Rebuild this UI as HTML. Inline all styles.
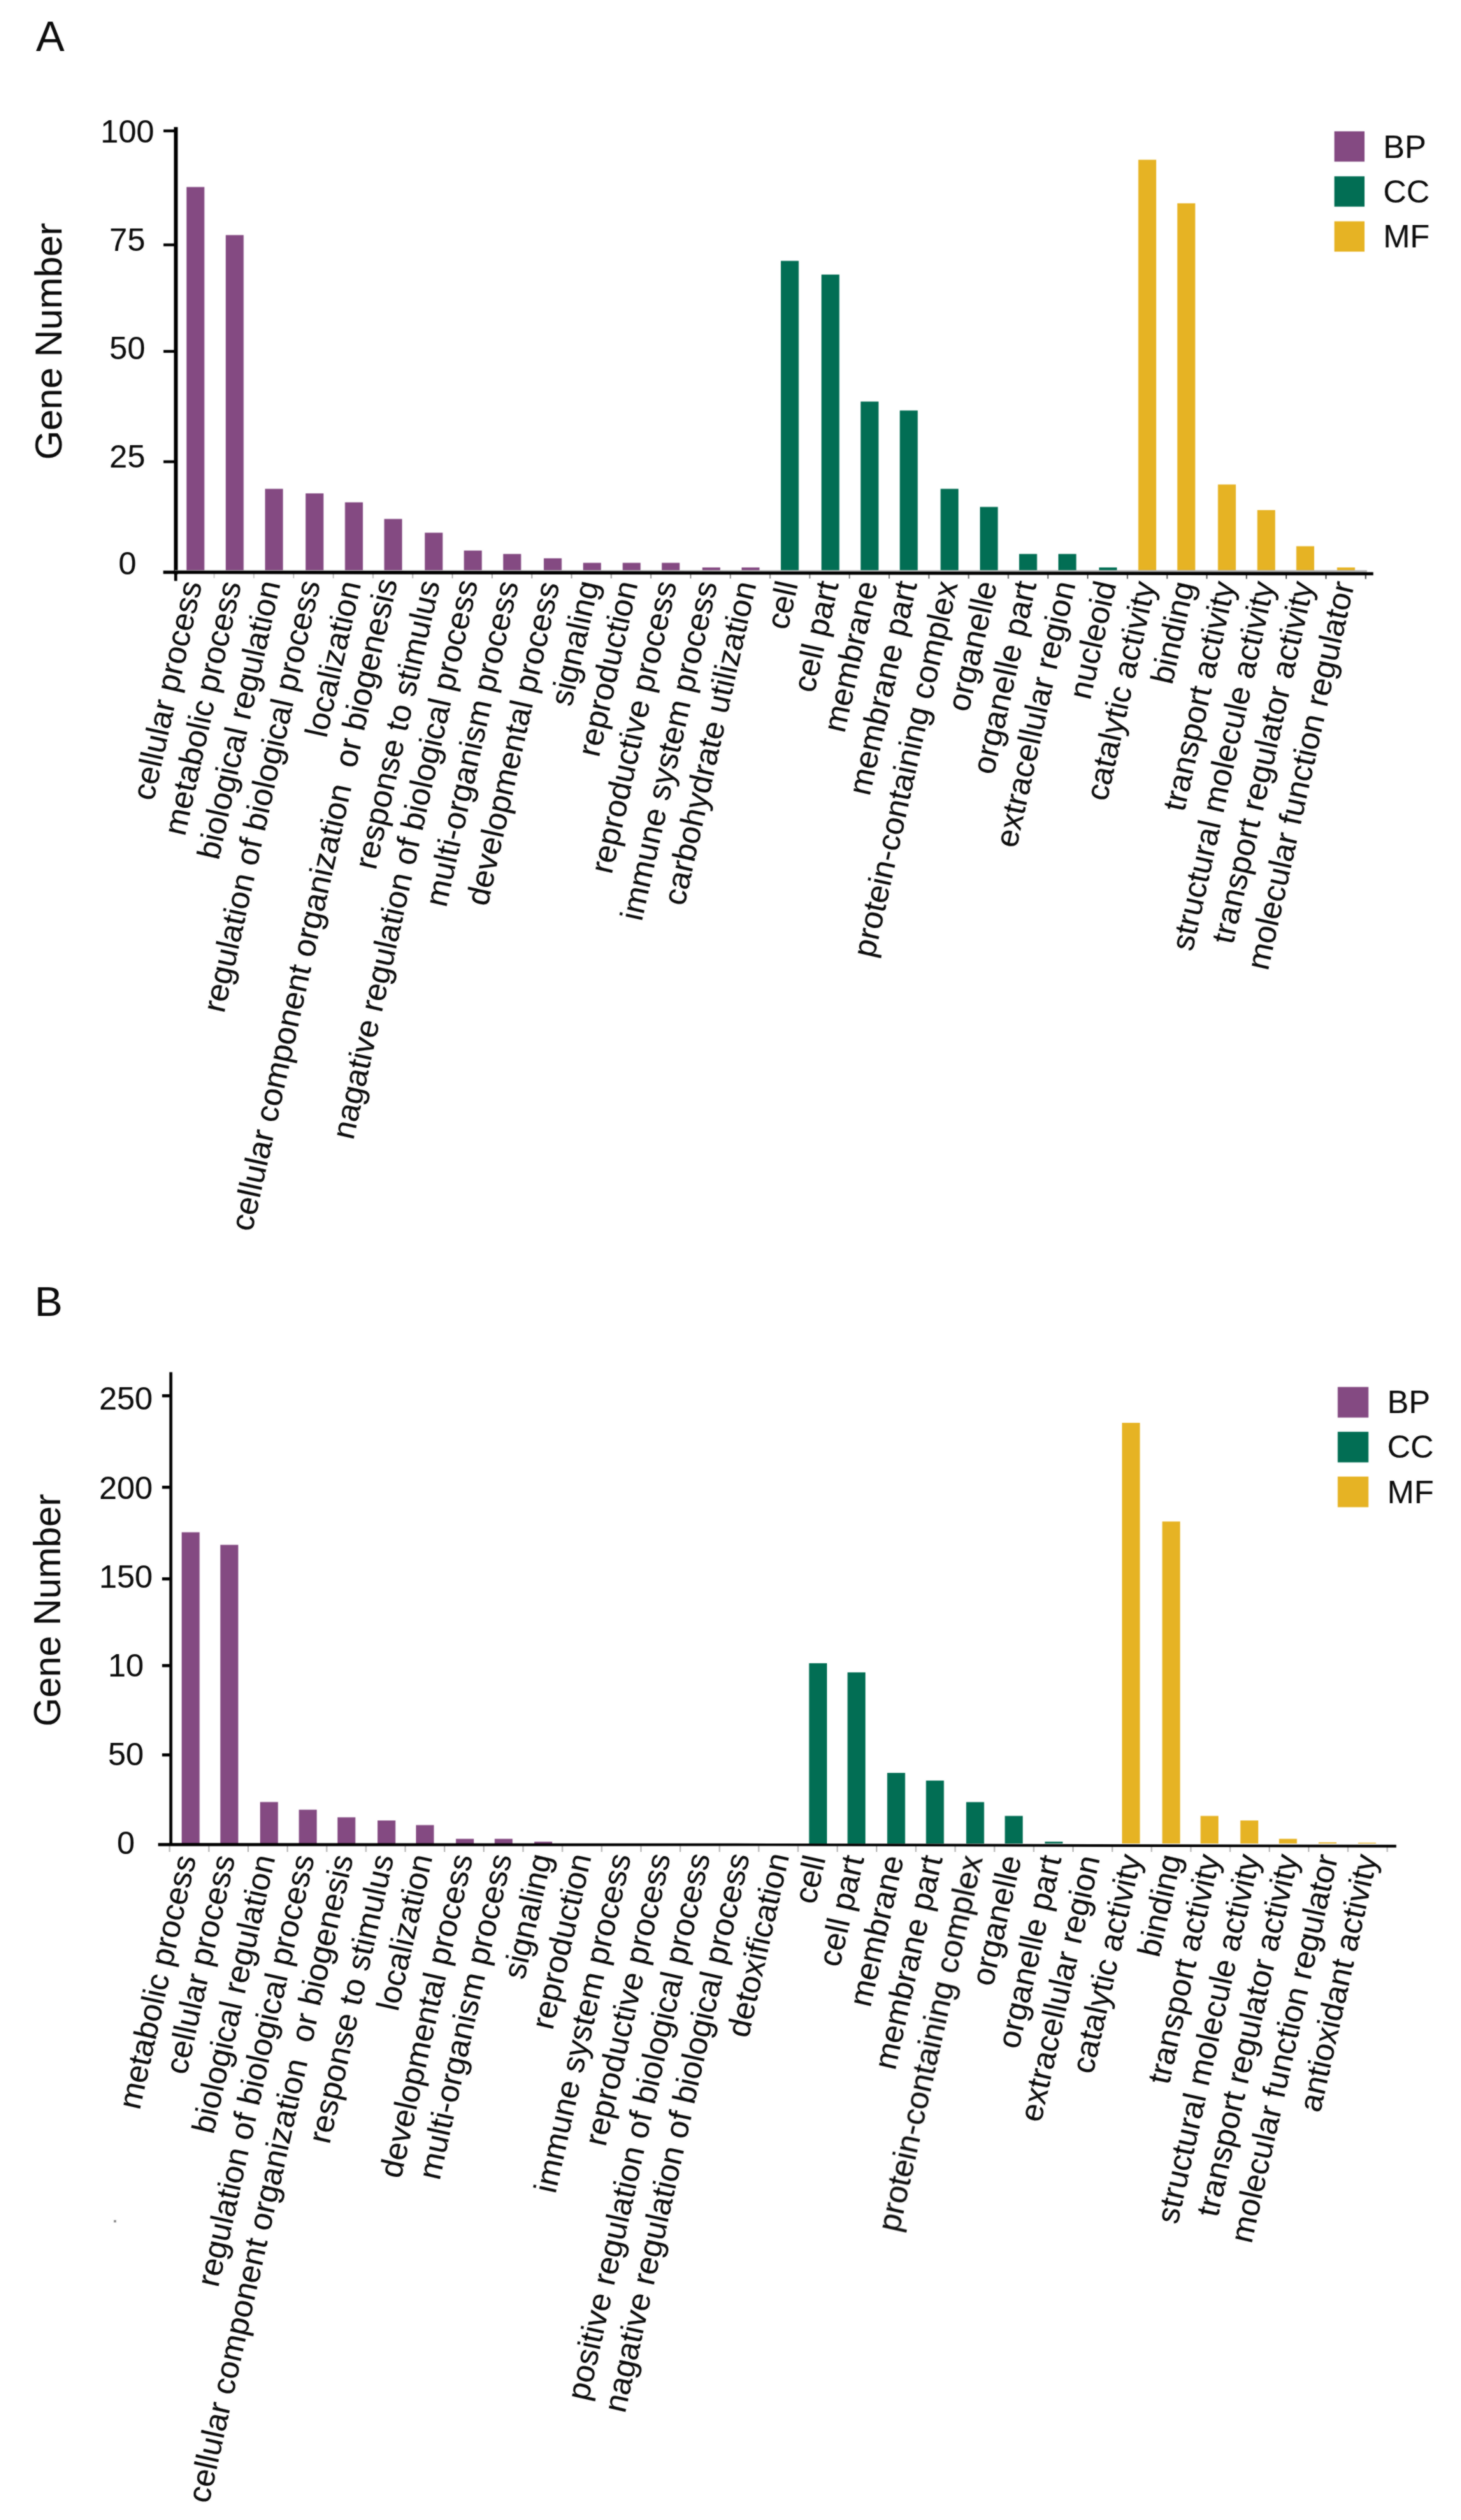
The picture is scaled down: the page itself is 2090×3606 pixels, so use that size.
<!DOCTYPE html>
<html lang="en"><head><meta charset="utf-8"><title>GO classification</title>
<style>html,body{margin:0;padding:0;background:#fff}body{width:2090px;height:3606px;overflow:hidden}svg{display:block}text{fill:#0c0c0c;stroke:#0c0c0c;stroke-width:0.12px}</style></head><body>
<svg width="2090" height="3606" viewBox="0 0 2090 3606" font-family="Liberation Sans, Arial, sans-serif">
<defs><filter id="soft" x="-2%" y="-2%" width="104%" height="104%" color-interpolation-filters="sRGB"><feGaussianBlur stdDeviation="0.8" result="b"/><feComposite in="SourceGraphic" in2="b" operator="arithmetic" k1="0" k2="0.45" k3="0.55" k4="0"/></filter></defs>
<rect width="2090" height="3606" fill="#fff"/>
<g id="panelA" filter="url(#soft)">
<text x="51.5" y="73.0" font-size="61" text-anchor="start" >A</text>
<rect x="266.8" y="267.6" width="25.6" height="548.9" fill="#844A82"/>
<rect x="322.9" y="336.4" width="25.6" height="480.1" fill="#844A82"/>
<rect x="379.2" y="699.5" width="25.6" height="117.0" fill="#844A82"/>
<rect x="437.2" y="706.0" width="25.6" height="110.5" fill="#844A82"/>
<rect x="493.5" y="718.8" width="25.6" height="97.7" fill="#844A82"/>
<rect x="549.6" y="742.6" width="25.6" height="73.9" fill="#844A82"/>
<rect x="607.7" y="762.3" width="25.6" height="54.2" fill="#844A82"/>
<rect x="663.7" y="787.8" width="25.6" height="28.7" fill="#844A82"/>
<rect x="719.8" y="792.7" width="25.6" height="23.8" fill="#844A82"/>
<rect x="777.9" y="798.9" width="25.6" height="17.6" fill="#844A82"/>
<rect x="834.2" y="805.4" width="25.6" height="11.1" fill="#844A82"/>
<rect x="890.7" y="805.4" width="25.6" height="11.1" fill="#844A82"/>
<rect x="946.7" y="805.4" width="25.6" height="11.1" fill="#844A82"/>
<rect x="1004.7" y="812.0" width="25.6" height="4.5" fill="#844A82"/>
<rect x="1060.9" y="812.0" width="25.6" height="4.5" fill="#844A82"/>
<rect x="1117.0" y="373.3" width="25.6" height="443.2" fill="#026E54"/>
<rect x="1175.1" y="392.9" width="25.6" height="423.6" fill="#026E54"/>
<rect x="1231.2" y="574.6" width="25.6" height="241.9" fill="#026E54"/>
<rect x="1287.2" y="587.4" width="25.6" height="229.1" fill="#026E54"/>
<rect x="1345.5" y="699.5" width="25.6" height="117.0" fill="#026E54"/>
<rect x="1401.9" y="725.4" width="25.6" height="91.1" fill="#026E54"/>
<rect x="1457.9" y="792.7" width="25.6" height="23.8" fill="#026E54"/>
<rect x="1514.0" y="792.7" width="25.6" height="23.8" fill="#026E54"/>
<rect x="1572.2" y="812.0" width="25.6" height="4.5" fill="#026E54"/>
<rect x="1628.4" y="228.6" width="25.6" height="587.9" fill="#E6B324"/>
<rect x="1684.2" y="290.9" width="25.6" height="525.6" fill="#E6B324"/>
<rect x="1742.3" y="693.3" width="25.6" height="123.2" fill="#E6B324"/>
<rect x="1798.6" y="729.9" width="25.6" height="86.6" fill="#E6B324"/>
<rect x="1854.4" y="781.6" width="25.6" height="34.9" fill="#E6B324"/>
<rect x="1912.7" y="812.0" width="25.6" height="4.5" fill="#E6B324"/>
<rect x="305.5" y="819.0" width="1.8" height="8.3" fill="#c8c8c8"/>
<rect x="362.3" y="819.0" width="1.8" height="8.4" fill="#c3c3c3"/>
<rect x="419.1" y="819.0" width="1.8" height="8.4" fill="#bebebe"/>
<rect x="475.9" y="819.0" width="1.8" height="8.5" fill="#b9b9b9"/>
<rect x="532.7" y="819.0" width="1.8" height="8.5" fill="#b4b4b4"/>
<rect x="589.5" y="819.0" width="1.8" height="8.5" fill="#afafaf"/>
<rect x="646.3" y="819.0" width="1.8" height="8.6" fill="#aaaaaa"/>
<rect x="703.1" y="819.0" width="1.8" height="8.6" fill="#a5a5a5"/>
<rect x="759.9" y="819.0" width="1.8" height="8.7" fill="#a0a0a0"/>
<rect x="816.7" y="819.0" width="1.8" height="8.7" fill="#9b9b9b"/>
<rect x="873.5" y="819.0" width="1.8" height="8.7" fill="#969696"/>
<rect x="930.3" y="819.0" width="1.8" height="8.8" fill="#919191"/>
<rect x="987.1" y="819.0" width="1.8" height="8.8" fill="#8c8c8c"/>
<rect x="1043.9" y="819.0" width="1.8" height="8.9" fill="#878787"/>
<rect x="1100.7" y="819.0" width="1.8" height="8.9" fill="#828282"/>
<rect x="1157.5" y="819.0" width="1.8" height="8.9" fill="#7d7d7d"/>
<rect x="1214.3" y="819.0" width="1.8" height="9.0" fill="#787878"/>
<rect x="1271.1" y="819.0" width="1.8" height="9.0" fill="#737373"/>
<rect x="1327.9" y="819.0" width="1.8" height="9.1" fill="#6e6e6e"/>
<rect x="1384.7" y="819.0" width="1.8" height="9.1" fill="#696969"/>
<rect x="1441.5" y="819.0" width="1.8" height="9.1" fill="#646464"/>
<rect x="1498.3" y="819.0" width="1.8" height="9.2" fill="#5f5f5f"/>
<rect x="1555.1" y="819.0" width="1.8" height="9.2" fill="#595959"/>
<rect x="1611.9" y="819.0" width="1.8" height="9.3" fill="#555555"/>
<rect x="1668.7" y="819.0" width="1.8" height="9.3" fill="#505050"/>
<rect x="1725.5" y="819.0" width="1.8" height="9.3" fill="#4b4b4b"/>
<rect x="1782.3" y="819.0" width="1.8" height="9.4" fill="#464646"/>
<rect x="1839.1" y="819.0" width="1.8" height="9.4" fill="#414141"/>
<rect x="1895.9" y="819.0" width="1.8" height="9.5" fill="#3c3c3c"/>
<rect x="1952.7" y="819.0" width="1.8" height="9.5" fill="#373737"/>
<rect x="248.8" y="181.8" width="5.5" height="640.0" fill="#000"/>
<rect x="249.2" y="820.0" width="4.3" height="11.3" fill="#000"/>
<rect x="250.0" y="815.8" width="1705.5" height="3.6" fill="#b4b4b4"/>
<polygon points="233.5,816.6 1964.5,818.8 1964.5,823.3 233.5,821.3" fill="#000"/>
<rect x="233.8" y="185.3" width="16.0" height="4.0" fill="#000"/>
<rect x="233.8" y="348.4" width="16.0" height="4.0" fill="#000"/>
<rect x="233.8" y="500.8" width="16.0" height="4.0" fill="#000"/>
<rect x="233.8" y="658.7" width="16.0" height="4.0" fill="#000"/>
<text x="182.2" y="204.4" font-size="46" text-anchor="middle" >100</text>
<text x="182.2" y="359.0" font-size="46" text-anchor="middle" >75</text>
<text x="182.2" y="513.6" font-size="46" text-anchor="middle" >50</text>
<text x="182.2" y="668.6" font-size="46" text-anchor="middle" >25</text>
<text x="182.2" y="821.8" font-size="46" text-anchor="middle" >0</text>
<text transform="translate(88,488.5) rotate(-90)" font-size="54" text-anchor="middle">Gene Number</text>
<text transform="translate(289.1,835.4) rotate(-77.4)" font-size="46" text-anchor="end">cellular process</text>
<text transform="translate(345.3,835.6) rotate(-77.4)" font-size="46" text-anchor="end">metabolic process</text>
<text transform="translate(401.4,834.8) rotate(-77.4)" font-size="46" text-anchor="end">biological regulation</text>
<text transform="translate(458.2,834.3) rotate(-77.4)" font-size="46" text-anchor="end">regulation of biological process</text>
<text transform="translate(516.6,835.2) rotate(-77.4)" font-size="46" text-anchor="end">localization</text>
<text transform="translate(568.9,831.8) rotate(-77.4)" font-size="46.3" text-anchor="end">cellular component organization  or biogenesis</text>
<text transform="translate(629.6,834.2) rotate(-77.4)" font-size="46" text-anchor="end">response to stimulus</text>
<text transform="translate(683.7,833.6) rotate(-77.4)" font-size="46" text-anchor="end">nagative regulation of biological process</text>
<text transform="translate(741.9,835.4) rotate(-77.4)" font-size="46" text-anchor="end">multi-organism process</text>
<text transform="translate(800.6,836.4) rotate(-77.4)" font-size="46" text-anchor="end">developmental process</text>
<text transform="translate(857.0,835.0) rotate(-77.4)" font-size="46" text-anchor="end">signaling</text>
<text transform="translate(912.6,835.2) rotate(-77.4)" font-size="46" text-anchor="end">reproduction</text>
<text transform="translate(968.2,835.4) rotate(-77.4)" font-size="46" text-anchor="end">reproductive process</text>
<text transform="translate(1026.3,835.6) rotate(-77.4)" font-size="46" text-anchor="end">immune system process</text>
<text transform="translate(1082.1,835.8) rotate(-77.4)" font-size="46" text-anchor="end">carbohydrate utilization</text>
<text transform="translate(1141.8,835.5) rotate(-77.4)" font-size="46" text-anchor="end">cell</text>
<text transform="translate(1199.9,835.5) rotate(-77.4)" font-size="46" text-anchor="end">cell part</text>
<text transform="translate(1256.0,835.5) rotate(-77.4)" font-size="46" text-anchor="end">membrane</text>
<text transform="translate(1312.0,835.5) rotate(-77.4)" font-size="46" text-anchor="end">membrane part</text>
<text transform="translate(1370.3,835.5) rotate(-77.4)" font-size="46" text-anchor="end">protein-containing complex</text>
<text transform="translate(1426.7,835.5) rotate(-77.4)" font-size="46" text-anchor="end">organelle</text>
<text transform="translate(1482.7,835.5) rotate(-77.4)" font-size="46" text-anchor="end">organelle part</text>
<text transform="translate(1538.8,835.5) rotate(-77.4)" font-size="46" text-anchor="end">extracellular region</text>
<text transform="translate(1597.0,835.5) rotate(-77.4)" font-size="46" text-anchor="end">nucleoid</text>
<text transform="translate(1653.2,836.0) rotate(-77.4)" font-size="46" text-anchor="end">catalytic activity</text>
<text transform="translate(1709.0,836.0) rotate(-77.4)" font-size="46" text-anchor="end">binding</text>
<text transform="translate(1767.1,836.0) rotate(-77.4)" font-size="46" text-anchor="end">transport activity</text>
<text transform="translate(1823.4,836.0) rotate(-77.4)" font-size="46" text-anchor="end">structural molecule activity</text>
<text transform="translate(1879.2,836.0) rotate(-77.4)" font-size="46" text-anchor="end">transport regulator activity</text>
<text transform="translate(1937.5,836.0) rotate(-77.4)" font-size="46" text-anchor="end">molecular function regulator</text>
<rect x="1908.8" y="187.9" width="43.2" height="43.4" fill="#844A82"/>
<text x="1978.8" y="225.9" font-size="46" text-anchor="start" >BP</text>
<rect x="1908.8" y="252.3" width="43.2" height="43.4" fill="#026E54"/>
<text x="1978.8" y="289.9" font-size="46" text-anchor="start" >CC</text>
<rect x="1908.8" y="316.7" width="43.2" height="43.4" fill="#E6B324"/>
<text x="1978.8" y="353.7" font-size="46" text-anchor="start" >MF</text>
</g>
<g id="panelB" filter="url(#soft)">
<text x="49.5" y="1882.5" font-size="60" text-anchor="start" >B</text>
<rect x="259.9" y="2192.6" width="25.6" height="445.4" fill="#844A82"/>
<rect x="315.2" y="2210.6" width="25.6" height="427.4" fill="#844A82"/>
<rect x="372.1" y="2578.6" width="25.6" height="59.4" fill="#844A82"/>
<rect x="427.6" y="2589.6" width="25.6" height="48.4" fill="#844A82"/>
<rect x="482.8" y="2600.5" width="25.6" height="37.5" fill="#844A82"/>
<rect x="540.1" y="2605.0" width="25.6" height="33.0" fill="#844A82"/>
<rect x="595.1" y="2611.6" width="25.6" height="26.4" fill="#844A82"/>
<rect x="652.2" y="2631.3" width="25.6" height="6.7" fill="#844A82"/>
<rect x="707.6" y="2631.3" width="25.6" height="6.7" fill="#844A82"/>
<rect x="764.3" y="2635.4" width="25.6" height="2.6" fill="#844A82"/>
<rect x="1157.4" y="2380.0" width="25.6" height="258.0" fill="#026E54"/>
<rect x="1212.4" y="2393.1" width="25.6" height="244.9" fill="#026E54"/>
<rect x="1269.2" y="2536.9" width="25.6" height="101.1" fill="#026E54"/>
<rect x="1324.7" y="2547.9" width="25.6" height="90.1" fill="#026E54"/>
<rect x="1382.2" y="2578.7" width="25.6" height="59.3" fill="#026E54"/>
<rect x="1437.5" y="2598.5" width="25.6" height="39.5" fill="#026E54"/>
<rect x="1494.7" y="2635.4" width="25.6" height="2.6" fill="#026E54"/>
<rect x="1605.1" y="2036.0" width="25.6" height="602.0" fill="#E6B324"/>
<rect x="1662.6" y="2177.2" width="25.6" height="460.8" fill="#E6B324"/>
<rect x="1717.4" y="2598.5" width="25.6" height="39.5" fill="#E6B324"/>
<rect x="1774.4" y="2605.0" width="25.6" height="33.0" fill="#E6B324"/>
<rect x="1829.7" y="2631.3" width="25.6" height="6.7" fill="#E6B324"/>
<rect x="1886.3" y="2636.3" width="25.6" height="1.7" fill="#E6B324"/>
<rect x="1942.8" y="2636.8" width="25.6" height="1.2" fill="#E6B324"/>
<rect x="241.6" y="2641.5" width="2.0" height="8.5" fill="#b4b4b4"/>
<rect x="297.8" y="2641.5" width="2.0" height="8.5" fill="#b4b4b4"/>
<rect x="354.0" y="2641.5" width="2.0" height="8.5" fill="#b4b4b4"/>
<rect x="410.2" y="2641.5" width="2.0" height="8.5" fill="#b4b4b4"/>
<rect x="466.4" y="2641.5" width="2.0" height="8.5" fill="#b4b4b4"/>
<rect x="522.5" y="2641.5" width="2.0" height="8.5" fill="#b4b4b4"/>
<rect x="578.7" y="2641.5" width="2.0" height="8.5" fill="#b4b4b4"/>
<rect x="634.9" y="2641.5" width="2.0" height="8.5" fill="#b4b4b4"/>
<rect x="691.1" y="2641.5" width="2.0" height="8.5" fill="#b4b4b4"/>
<rect x="747.3" y="2641.5" width="2.0" height="8.5" fill="#b4b4b4"/>
<rect x="803.5" y="2641.5" width="2.0" height="8.5" fill="#b4b4b4"/>
<rect x="859.7" y="2641.5" width="2.0" height="8.5" fill="#b4b4b4"/>
<rect x="915.9" y="2641.5" width="2.0" height="8.5" fill="#b4b4b4"/>
<rect x="972.1" y="2641.5" width="2.0" height="8.5" fill="#b4b4b4"/>
<rect x="1028.3" y="2641.5" width="2.0" height="8.5" fill="#b4b4b4"/>
<rect x="1084.4" y="2641.5" width="2.0" height="8.5" fill="#b4b4b4"/>
<rect x="1140.6" y="2641.5" width="2.0" height="8.5" fill="#b4b4b4"/>
<rect x="1196.8" y="2641.5" width="2.0" height="8.5" fill="#b4b4b4"/>
<rect x="1253.0" y="2641.5" width="2.0" height="8.5" fill="#b4b4b4"/>
<rect x="1309.2" y="2641.5" width="2.0" height="8.5" fill="#b4b4b4"/>
<rect x="1365.4" y="2641.5" width="2.0" height="8.5" fill="#b4b4b4"/>
<rect x="1421.6" y="2641.5" width="2.0" height="8.5" fill="#b4b4b4"/>
<rect x="1477.8" y="2641.5" width="2.0" height="8.5" fill="#b4b4b4"/>
<rect x="1534.0" y="2641.5" width="2.0" height="8.5" fill="#b4b4b4"/>
<rect x="1590.2" y="2641.5" width="2.0" height="8.5" fill="#b4b4b4"/>
<rect x="1646.3" y="2641.5" width="2.0" height="8.5" fill="#b4b4b4"/>
<rect x="1702.5" y="2641.5" width="2.0" height="8.5" fill="#b4b4b4"/>
<rect x="1758.7" y="2641.5" width="2.0" height="8.5" fill="#b4b4b4"/>
<rect x="1814.9" y="2641.5" width="2.0" height="8.5" fill="#b4b4b4"/>
<rect x="1871.1" y="2641.5" width="2.0" height="8.5" fill="#b4b4b4"/>
<rect x="1927.3" y="2641.5" width="2.0" height="8.5" fill="#b4b4b4"/>
<rect x="1983.5" y="2641.5" width="2.0" height="8.5" fill="#b4b4b4"/>
<rect x="242.3" y="1963.5" width="4.2" height="676.0" fill="#000"/>
<polygon points="226.2,2637.2 1100,2637.9 1997.4,2639.8 1997.4,2643.8 1100,2641.6 226.2,2641.8" fill="#000"/>
<rect x="231.9" y="1995.1" width="11.0" height="4.4" fill="#000"/>
<rect x="231.9" y="2126.0" width="11.0" height="4.4" fill="#000"/>
<rect x="231.9" y="2257.1" width="11.0" height="4.4" fill="#000"/>
<rect x="231.9" y="2381.2" width="11.0" height="4.4" fill="#000"/>
<rect x="231.9" y="2509.0" width="11.0" height="4.4" fill="#000"/>
<text x="180.0" y="2017.2" font-size="46" text-anchor="middle" >250</text>
<text x="180.0" y="2145.0" font-size="46" text-anchor="middle" >200</text>
<text x="180.0" y="2271.8" font-size="46" text-anchor="middle" >150</text>
<text x="180.0" y="2399.2" font-size="46" text-anchor="middle" >10</text>
<text x="180.0" y="2525.9" font-size="46" text-anchor="middle" >50</text>
<text x="180.0" y="2653.2" font-size="46" text-anchor="middle" >0</text>
<text transform="translate(86,2304) rotate(-90)" font-size="53" text-anchor="middle">Gene Number</text>
<text transform="translate(280.7,2658.5) rotate(-77.4)" font-size="46" text-anchor="end">metabolic process</text>
<text transform="translate(336.5,2658.3) rotate(-77.4)" font-size="46" text-anchor="end">cellular process</text>
<text transform="translate(393.9,2658.1) rotate(-77.4)" font-size="46" text-anchor="end">biological regulation</text>
<text transform="translate(449.9,2657.9) rotate(-77.4)" font-size="46" text-anchor="end">regulation of biological process</text>
<text transform="translate(505.6,2657.7) rotate(-77.4)" font-size="46" text-anchor="end">cellular component organization  or biogenesis</text>
<text transform="translate(563.4,2657.5) rotate(-77.4)" font-size="46" text-anchor="end">response to stimulus</text>
<text transform="translate(618.9,2657.3) rotate(-77.4)" font-size="46" text-anchor="end">localization</text>
<text transform="translate(676.5,2657.1) rotate(-77.4)" font-size="46" text-anchor="end">developmental process</text>
<text transform="translate(732.4,2656.9) rotate(-77.4)" font-size="46" text-anchor="end">multi-organism process</text>
<text transform="translate(789.6,2656.7) rotate(-77.4)" font-size="46" text-anchor="end">signaling</text>
<text transform="translate(846.2,2656.5) rotate(-77.4)" font-size="46" text-anchor="end">reproduction</text>
<text transform="translate(902.8,2656.3) rotate(-77.4)" font-size="46" text-anchor="end">immune system process</text>
<text transform="translate(959.3,2656.1) rotate(-77.4)" font-size="46" text-anchor="end">reproductive process</text>
<text transform="translate(1015.9,2655.9) rotate(-77.4)" font-size="46" text-anchor="end">positive regulation of biological process</text>
<text transform="translate(1072.5,2655.7) rotate(-77.4)" font-size="46" text-anchor="end">nagative regulation of biological process</text>
<text transform="translate(1129.0,2655.5) rotate(-77.4)" font-size="46" text-anchor="end">detoxification</text>
<text transform="translate(1181.2,2659.0) rotate(-77.4)" font-size="46" text-anchor="end">cell</text>
<text transform="translate(1236.2,2659.0) rotate(-77.4)" font-size="46" text-anchor="end">cell part</text>
<text transform="translate(1293.0,2659.0) rotate(-77.4)" font-size="46" text-anchor="end">membrane</text>
<text transform="translate(1348.5,2659.0) rotate(-77.4)" font-size="46" text-anchor="end">membrane part</text>
<text transform="translate(1406.0,2659.0) rotate(-77.4)" font-size="46" text-anchor="end">protein-containing complex</text>
<text transform="translate(1461.3,2659.0) rotate(-77.4)" font-size="46" text-anchor="end">organelle</text>
<text transform="translate(1518.5,2659.0) rotate(-77.4)" font-size="46" text-anchor="end">organelle part</text>
<text transform="translate(1573.7,2659.0) rotate(-77.4)" font-size="46" text-anchor="end">extracellular region</text>
<text transform="translate(1632.9,2657.5) rotate(-77.4)" font-size="46" text-anchor="end">catalytic activity</text>
<text transform="translate(1690.4,2657.5) rotate(-77.4)" font-size="46" text-anchor="end">binding</text>
<text transform="translate(1745.2,2657.5) rotate(-77.4)" font-size="46" text-anchor="end">transport activity</text>
<text transform="translate(1802.2,2657.5) rotate(-77.4)" font-size="46" text-anchor="end">structural molecule activity</text>
<text transform="translate(1857.5,2657.5) rotate(-77.4)" font-size="46" text-anchor="end">transport regulator activity</text>
<text transform="translate(1914.1,2657.5) rotate(-77.4)" font-size="46" text-anchor="end">molecular function regulator</text>
<text transform="translate(1970.6,2657.5) rotate(-77.4)" font-size="46" text-anchor="end">antioxidant activity</text>
<rect x="1913.6" y="1984.7" width="44.0" height="43.8" fill="#844A82"/>
<text x="1984.6" y="2021.8" font-size="46" text-anchor="start" >BP</text>
<rect x="1913.6" y="2048.8" width="44.0" height="43.8" fill="#026E54"/>
<text x="1984.6" y="2086.2" font-size="46" text-anchor="start" >CC</text>
<rect x="1913.6" y="2112.9" width="44.0" height="43.8" fill="#E6B324"/>
<text x="1984.6" y="2150.8" font-size="46" text-anchor="start" >MF</text>
<rect x="162.8" y="3176.8" width="3.4" height="3.4" fill="#8a8a8a"/>
</g>
</svg></body></html>
